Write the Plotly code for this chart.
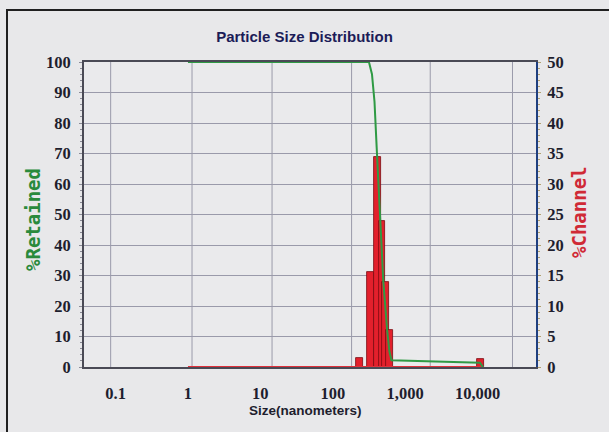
import numpy as np
import plotly.graph_objects as go

# ---- data ----
channel_size_nm = [237, 330, 414, 478, 535, 607, 10970]
channel_pct = [1.5, 15.5, 34.5, 24.0, 14.0, 6.0, 1.3]

retained_size_nm = [1, 316, 348, 377, 404, 449, 499, 566, 607, 647, 10790, 11880]
retained_pct = [100, 100, 96, 87, 72, 50, 28, 11.7, 5, 2.2, 1.4, 0]

baseline_size_nm = [1, 11880]
baseline_pct = [0, 0]

x_tick_nm = [0.1, 1, 10, 100, 1000, 10000]
x_tick_text = ["0.1", "1", "10", "100", "1,000", "10,000"]
left_ticks = list(range(0, 101, 10))
right_ticks = list(range(0, 51, 5))

# vertical grid positions (fraction of plot width)
vgrid_frac = [0.059, 0.239, 0.416, 0.592, 0.766, 0.948]

TICK_FONT = dict(family="Liberation Serif, Times New Roman, serif", size=16.5,
                 color="#1e1e2e", weight="bold")

fig = go.Figure()

fig.add_trace(go.Scatter(
    x=np.log10(baseline_size_nm), y=baseline_pct, mode="lines",
    line=dict(color="#e0303a", width=2), yaxis="y", showlegend=False,
    hoverinfo="skip"))

fig.add_trace(go.Bar(
    x=np.log10(channel_size_nm), y=channel_pct, width=0.095,
    marker=dict(color="#e3202c", line=dict(color="#7a0a10", width=0.8)),
    yaxis="y", showlegend=False))

fig.add_trace(go.Scatter(
    x=np.log10(retained_size_nm), y=retained_pct, mode="lines",
    line=dict(color="#2f9a44", width=2), yaxis="y2", showlegend=False))

shapes = []
for f in vgrid_frac:
    shapes.append(dict(type="line", xref="x domain", yref="y domain",
                       x0=f, x1=f, y0=0, y1=1, layer="below",
                       line=dict(color="#9a9aaa", width=1)))
# photo frame edge
shapes.append(dict(type="rect", xref="paper", yref="paper",
                   x0=(7 - 84) / 452, x1=(640 - 84) / 452,
                   y0=(367 - 470) / 305, y1=(367 - 10) / 305,
                   line=dict(color="#202020", width=2), layer="below"))

fig.update_layout(
    width=609, height=432,
    margin=dict(l=84, r=73, t=62, b=65),
    paper_bgcolor="#e8e8ea",
    plot_bgcolor="#eaeaec",
    bargap=0,
    shapes=shapes,
    title=dict(text="Particle Size Distribution", x=0.5, xanchor="center",
               y=1 - 37 / 432, yanchor="middle",
               font=dict(family="Liberation Sans Narrow, Liberation Sans, Arial, sans-serif",
                         size=15, color="#1c1c58", weight="bold")),
    xaxis=dict(
        range=[-1.436, 4.807], tickvals=np.log10(x_tick_nm), ticktext=x_tick_text,
        showgrid=False, zeroline=False, showline=True, linecolor="#4a4a55",
        linewidth=2, mirror=True, ticks="", tickfont=TICK_FONT,
        ticklabelstandoff=10),
    yaxis=dict(
        side="right", range=[0, 50], tickvals=right_ticks,
        showgrid=True, gridcolor="#9a9aaa", gridwidth=1, zeroline=False,
        showline=True, linecolor="#1f3f7f", linewidth=2,
        ticks="outside", ticklen=3, tickcolor="#b0a070",
        minor=dict(dtick=1, ticks="outside", ticklen=2, tickcolor="#b0a070"),
        tickfont=TICK_FONT, ticklabelstandoff=3),
    yaxis2=dict(
        side="left", overlaying="y", range=[0, 100], tickvals=left_ticks,
        showgrid=False, zeroline=False, showline=True, linecolor="#4a4a55",
        linewidth=2, ticks="outside", ticklen=3, tickcolor="#8a8a95",
        minor=dict(dtick=2, ticks="outside", ticklen=2, tickcolor="#8a8a95"),
        tickfont=TICK_FONT, ticklabelstandoff=5),
    annotations=[
        dict(text="Size(nanometers)", xref="paper", yref="paper",
             x=(305 - 84) / 452, y=(367 - 410) / 305, showarrow=False,
             xanchor="center", yanchor="middle",
             font=dict(family="Liberation Sans Narrow, Liberation Sans, Arial, sans-serif",
                       size=13.5, color="#1e1e2e", weight="bold")),
        dict(text="%Retained", xref="paper", yref="paper",
             x=(33 - 84) / 452, y=(367 - 220) / 305, showarrow=False,
             textangle=-90, xanchor="center", yanchor="middle",
             font=dict(family="DejaVu Sans Mono, monospace", size=19,
                       color="#2a8a3c", weight="bold")),
        dict(text="%Channel", xref="paper", yref="paper",
             x=(579 - 84) / 452, y=(367 - 212) / 305, showarrow=False,
             textangle=-90, xanchor="center", yanchor="middle",
             font=dict(family="DejaVu Sans Mono, monospace", size=19,
                       color="#d02a36", weight="bold")),
    ],
)

fig.write_html("out.html")
